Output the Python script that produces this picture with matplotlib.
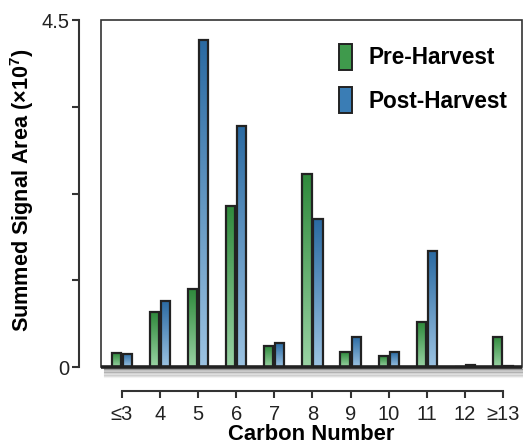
import numpy as np
import matplotlib
matplotlib.use("Agg")
import matplotlib.pyplot as plt
import matplotlib.patches as mpatches
from matplotlib.colors import LinearSegmentedColormap

plt.rcParams['font.family'] = ['Liberation Sans', 'DejaVu Sans']
plt.rcParams['mathtext.fontset'] = 'custom'
plt.rcParams['mathtext.rm'] = 'Liberation Sans'
plt.rcParams['mathtext.bf'] = 'Liberation Sans:bold'

# Data
categories = ["≤3", "4", "5", "6", "7", "8", "9", "10", "11", "12", "≥13"]
pre_harvest = [0.18, 0.71, 1.01, 2.09, 0.27, 2.50, 0.19, 0.14, 0.58, 0.0, 0.39]
post_harvest = [0.17, 0.86, 4.24, 3.12, 0.31, 1.92, 0.39, 0.19, 1.50, 0.02, 0.015]
series_names = ["Pre-Harvest", "Post-Harvest"]

green_cmap = LinearSegmentedColormap.from_list("g", ["#9ad3a4", "#2f8a3c"])
blue_cmap = LinearSegmentedColormap.from_list("b", ["#9cc3e2", "#2a6aa2"])

fig = plt.figure(figsize=(5.23, 4.48), dpi=100)
ax = fig.add_axes([101 / 523, 1 - 367 / 448, 421 / 523, 347 / 448])

x = np.arange(len(categories))
width = 0.24
offset = 0.145
grad = np.linspace(0, 1, 256).reshape(-1, 1)


def gradient_bars(xpos, values, cmap):
    bars = ax.bar(xpos, values, width, facecolor="none", edgecolor="#222222",
                  linewidth=1.6, zorder=3)
    for rect in bars:
        h = rect.get_height()
        if h <= 0:
            continue
        x0 = rect.get_x()
        im = ax.imshow(grad, extent=[x0, x0 + width, 0, h], origin="lower",
                       cmap=cmap, aspect="auto", zorder=2)
        im.set_clip_path(rect)
    return bars


gradient_bars(x - offset, pre_harvest, green_cmap)
gradient_bars(x + offset, post_harvest, blue_cmap)

ax.set_xlim(-0.55, 10.5)
ax.set_ylim(0, 4.5)

# Box frame: thin top/left/right, heavy bottom with soft shadow
ax.add_patch(mpatches.Rectangle((0, 0), 1, 1, transform=ax.transAxes, fill=False,
                                edgecolor="#333333", linewidth=1.2, zorder=4, clip_on=False))
ax.plot([0, 1], [0, 0], transform=ax.transAxes, color="#222222", linewidth=2.6,
        zorder=5, clip_on=False, solid_capstyle="butt")
for i in range(1, 8):
    ax.plot([0.01, 1], [-0.004 * i - 0.002, -0.004 * i - 0.002], transform=ax.transAxes,
            color="#555555", alpha=0.45 - 0.055 * i, linewidth=1.5, clip_on=False, zorder=1)

# Detached axes
for side in ["top", "right"]:
    ax.spines[side].set_visible(False)
ax.spines["left"].set_position(("outward", 16))
ax.spines["bottom"].set_position(("outward", 17))
ax.spines["left"].set_linewidth(1.5)
ax.spines["bottom"].set_linewidth(1.5)
ax.spines["left"].set_color("#333333")
ax.spines["bottom"].set_color("#333333")
ax.spines["bottom"].set_bounds(0, 10)

ax.set_yticks([0, 1.125, 2.25, 3.375, 4.5])
ax.set_yticklabels(["0", "", "", "", "4.5"])
ax.set_xticks(x)
ax.set_xticklabels(categories)
ax.tick_params(axis="both", direction="out", length=5, width=1.5, color="#333333",
               labelsize=14.5, colors="#222222")
ax.tick_params(axis="y", pad=2)
ax.tick_params(axis="x", pad=5)

ax.set_xlabel("Carbon Number", fontsize=15.8, fontweight="bold", labelpad=0.5)
ax.set_ylabel(r"Summed Signal Area (×10$^{\mathbf{7}}$)", fontsize=15.6, fontweight="bold")
ax.yaxis.set_label_coords(-0.155, 0.51)

handles = [
    mpatches.Patch(facecolor="#3f9a4c", edgecolor="#222222", linewidth=1.4, label=series_names[0]),
    mpatches.Patch(facecolor="#3a7db5", edgecolor="#222222", linewidth=1.4, label=series_names[1]),
]
ax.legend(handles=handles, loc="upper right", bbox_to_anchor=(1.013, 0.99), frameon=False,
          handlelength=0.6, handleheight=1.4, handletextpad=0.7, labelspacing=0.75,
          prop={"size": 16.3, "weight": "bold"})

fig.savefig("out.png", dpi=100)
